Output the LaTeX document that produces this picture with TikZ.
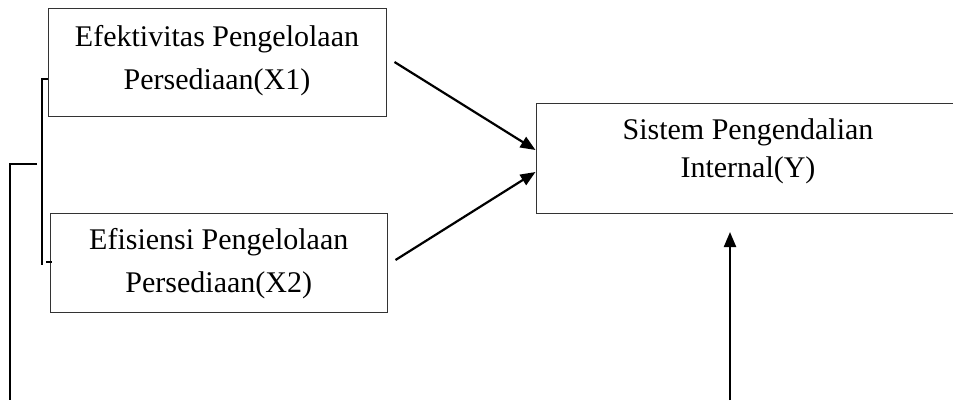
\documentclass[tikz,border=0pt]{standalone}
\usepackage{fontspec}
\setmainfont{Liberation Serif}
\usetikzlibrary{arrows.meta}
\begin{document}
\begin{tikzpicture}[x=1pt,y=-1pt,
  varbox/.style={draw=black!80,line width=1pt,rectangle,inner sep=0pt},
  boxtext/.style={align=center,inner sep=0pt,font=\fontsize{30}{43}\selectfont},
  conn/.style={line width=2.2pt,-{Triangle[length=15pt,width=12pt]}},
  brk/.style={line width=2.2pt}]
\useasboundingbox (0,0) rectangle (953,400);
\clip (0,0) rectangle (953,400);
\node[varbox,minimum width=338pt,minimum height=108pt] (x1) at (217,62) {};
\node[boxtext] (x1t) at ([yshift=1pt]x1.center) {Efektivitas Pengelolaan\\Persediaan(X1)};
\node[varbox,minimum width=336.5pt,minimum height=99pt] (x2) at (218.75,262.5) {};
\node[boxtext] (x2t) at ([yshift=-1pt]x2.center) {Efisiensi Pengelolaan\\Persediaan(X2)};
\node[varbox,minimum width=424pt,minimum height=110pt] (y) at (748,158) {};
\node[boxtext,font=\fontsize{30}{38}\selectfont] (yt) at ([yshift=7pt]y.center) {Sistem Pengendalian\\Internal(Y)};
\draw[conn] ([xshift=8pt]x1.east) -- ([yshift=8pt]y.west);
\draw[conn] ([xshift=8pt,yshift=2.5pt]x2.east) -- ([yshift=-14pt]y.west);
\coordinate (ybot) at (730,400);
\coordinate (ytip) at (730,232);
\draw[conn] (ybot) -- (ytip);
% brackets
\coordinate (b1) at (48,79);
\coordinate (b2) at (42,79);
\coordinate (b3) at (42,265);
\coordinate (b4) at (46,262);
\coordinate (b5) at (52,262);
\draw[brk] (b1) -- (b2) -- (b3);
\draw[brk] (b4) -- (b5);
\coordinate (c1) at (37,164);
\coordinate (c2) at (10,164);
\coordinate (c3) at (10,400);
\draw[brk] (c1) -- (c2) -- (c3);
\end{tikzpicture}
\end{document}
